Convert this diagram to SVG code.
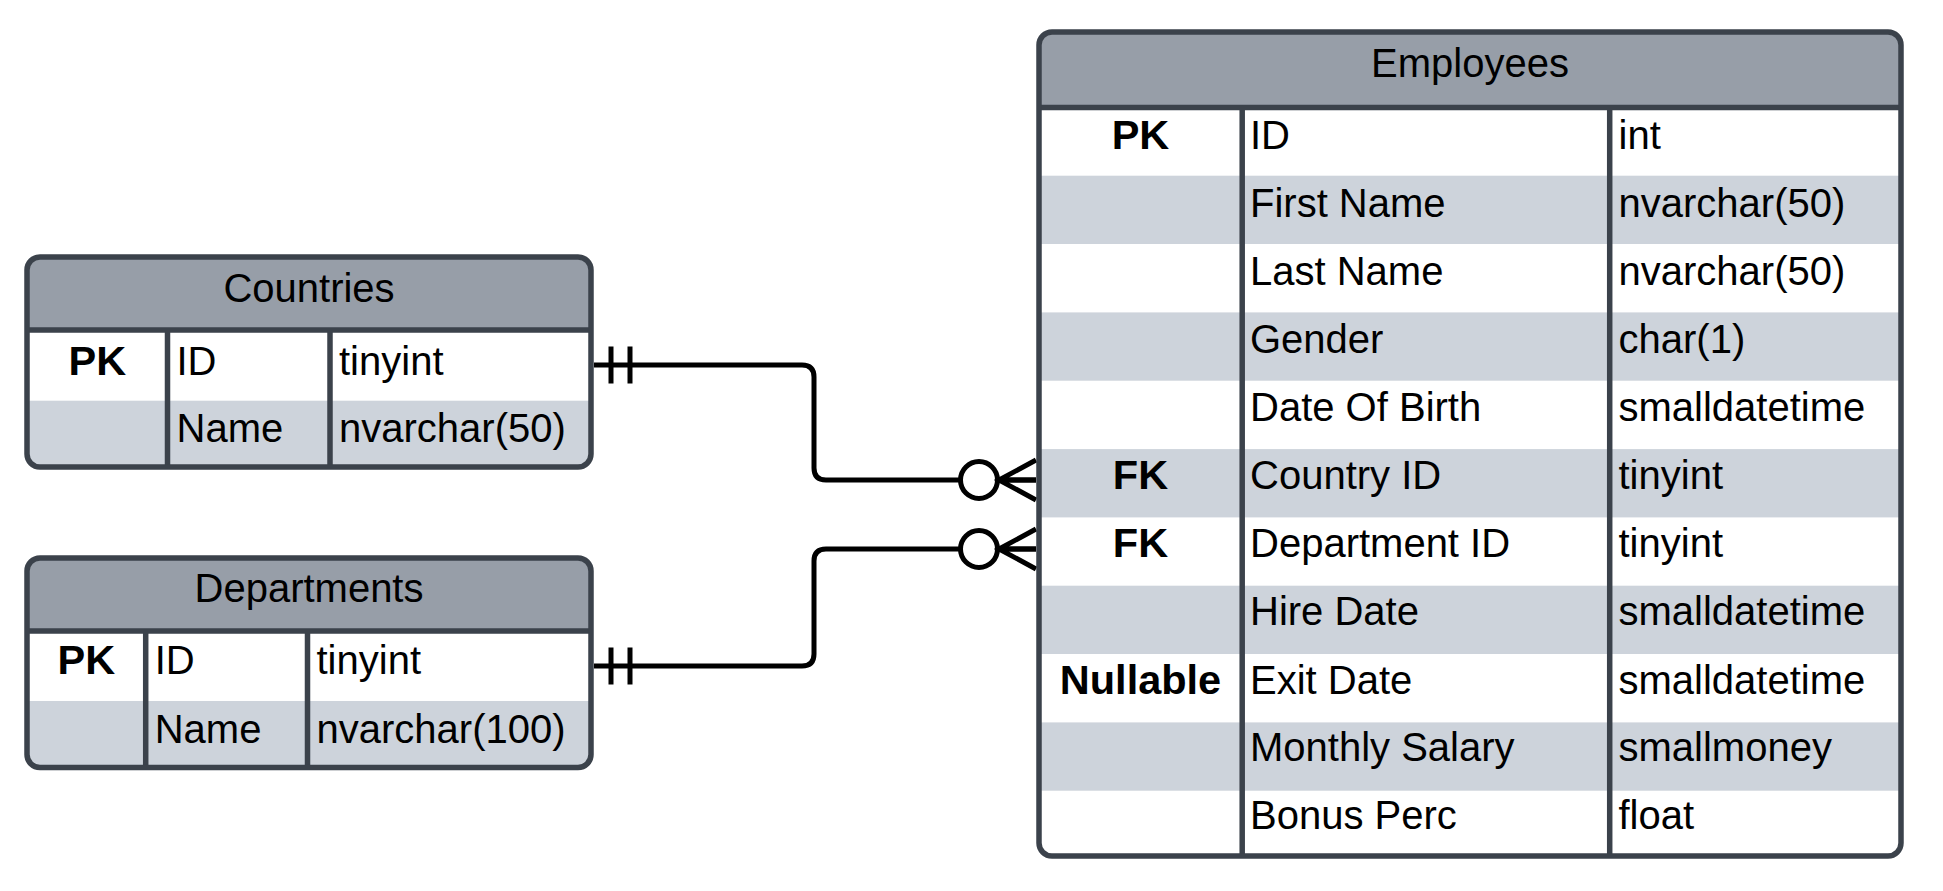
<svg xmlns="http://www.w3.org/2000/svg" width="1943" height="891" viewBox="0 0 1943 891">
<style>
  text { font-family: "Liberation Sans", Arial, sans-serif; font-size: 40px; fill: #000; }
  .title { text-anchor: middle; }
  .key { text-anchor: middle; font-weight: bold; font-size: 41.5px; }
  .hdr { fill: #979ea8; }
  .stripe { fill: #cdd3db; }
  .bg { fill: #ffffff; }
  .outline { fill: none; stroke: #3b424b; stroke-width: 5.5; }
  .grid { fill: none; stroke: #3b424b; stroke-width: 5.5; }
  .conn { fill: none; stroke: #000; stroke-width: 5; stroke-linejoin: round; }
  .mk { fill: none; stroke: #000; stroke-width: 5; }
  .mkc { fill: #fff; stroke: #000; stroke-width: 5; }
</style>
<defs>
  <clipPath id="clipC"><rect x="27" y="257" width="564" height="210" rx="13"/></clipPath>
  <clipPath id="clipD"><rect x="27" y="558" width="564" height="209.5" rx="13"/></clipPath>
  <clipPath id="clipE"><rect x="1039" y="32" width="862" height="824" rx="13"/></clipPath>
  <marker id="oneOne" markerUnits="userSpaceOnUse" orient="auto" refX="0" refY="0" markerWidth="80" markerHeight="80" overflow="visible">
    <path class="mk" d="M17,-18.5 V18.5 M36,-18.5 V18.5"/>
  </marker>
  <marker id="zeroMany" markerUnits="userSpaceOnUse" orient="auto" refX="0" refY="0" markerWidth="120" markerHeight="80" overflow="visible">
    <circle class="mkc" cx="-57" cy="0" r="18.5"/>
    <path class="mk" d="M0,-20 L-37,0 L0,20 M-37,0 H0"/>
  </marker>
</defs>
<rect x="0" y="0" width="1943" height="891" fill="#ffffff"/>

<g id="connectors">
  <path class="conn" marker-start="url(#oneOne)" marker-end="url(#zeroMany)" d="M594,365 H802 Q814,365 814,377 V468 Q814,480 826,480 H1036"/>
  <path class="conn" marker-start="url(#oneOne)" marker-end="url(#zeroMany)" d="M594,666 H802 Q814,666 814,654 V561 Q814,549 826,549 H1036"/>
</g>

<g id="countries">
  <g clip-path="url(#clipC)">
    <rect class="bg" x="27" y="257" width="564" height="210"/>
    <rect class="hdr" x="27" y="257" width="564" height="73"/>
    <rect class="stripe" x="27" y="400.7" width="564" height="67"/>
  </g>
  <path class="grid" d="M27,330 H591 M167.5,330 V467 M330,330 V467"/>
  <rect class="outline" x="27" y="257" width="564" height="210" rx="13"/>
  <text class="title" x="309" y="301.7">Countries</text>
  <text class="key" x="97.3" y="375">PK</text>
  <text x="176.5" y="375">ID</text>
  <text x="339" y="375">tinyint</text>
  <text x="176.5" y="441.7">Name</text>
  <text x="339" y="441.7">nvarchar(50)</text>
</g>

<g id="departments">
  <g clip-path="url(#clipD)">
    <rect class="bg" x="27" y="558" width="564" height="209.5"/>
    <rect class="hdr" x="27" y="558" width="564" height="73"/>
    <rect class="stripe" x="27" y="701" width="564" height="67"/>
  </g>
  <path class="grid" d="M27,631 H591 M145.7,631 V767.5 M307.5,631 V767.5"/>
  <rect class="outline" x="27" y="558" width="564" height="209.5" rx="13"/>
  <text class="title" x="309" y="601.7">Departments</text>
  <text class="key" x="86.3" y="674.3">PK</text>
  <text x="154.7" y="674.3">ID</text>
  <text x="316.5" y="674.3">tinyint</text>
  <text x="154.7" y="742.7">Name</text>
  <text x="316.5" y="742.7">nvarchar(100)</text>
</g>

<g id="employees">
  <g clip-path="url(#clipE)">
    <rect class="bg" x="1039" y="32" width="862" height="824"/>
    <rect class="hdr" x="1039" y="32" width="862" height="75.4"/>
    <rect class="stripe" x="1039" y="175.7" width="862" height="68.3"/>
    <rect class="stripe" x="1039" y="312.4" width="862" height="68.3"/>
    <rect class="stripe" x="1039" y="449.1" width="862" height="68.3"/>
    <rect class="stripe" x="1039" y="585.7" width="862" height="68.3"/>
    <rect class="stripe" x="1039" y="722.4" width="862" height="68.3"/>
  </g>
  <path class="grid" d="M1039,107.4 H1901 M1242.2,107.4 V856 M1609.7,107.4 V856"/>
  <rect class="outline" x="1039" y="32" width="862" height="824" rx="13"/>
  <text class="title" x="1470" y="76.7">Employees</text>
  <text class="key" x="1140.5" y="149.3">PK</text>
  <text x="1250" y="149.3">ID</text>
  <text x="1618.5" y="149.3">int</text>
  <text x="1250" y="217.3">First Name</text>
  <text x="1618.5" y="217.3">nvarchar(50)</text>
  <text x="1250" y="285.3">Last Name</text>
  <text x="1618.5" y="285.3">nvarchar(50)</text>
  <text x="1250" y="353.3">Gender</text>
  <text x="1618.5" y="353.3">char(1)</text>
  <text x="1250" y="421.3">Date Of Birth</text>
  <text x="1618.5" y="421.3">smalldatetime</text>
  <text class="key" x="1140.5" y="489.3">FK</text>
  <text x="1250" y="489.3">Country ID</text>
  <text x="1618.5" y="489.3">tinyint</text>
  <text class="key" x="1140.5" y="557.3">FK</text>
  <text x="1250" y="557.3">Department ID</text>
  <text x="1618.5" y="557.3">tinyint</text>
  <text x="1250" y="625.3">Hire Date</text>
  <text x="1618.5" y="625.3">smalldatetime</text>
  <text class="key" x="1140.5" y="693.8">Nullable</text>
  <text x="1250" y="693.8">Exit Date</text>
  <text x="1618.5" y="693.8">smalldatetime</text>
  <text x="1250" y="761.3">Monthly Salary</text>
  <text x="1618.5" y="761.3">smallmoney</text>
  <text x="1250" y="829.3">Bonus Perc</text>
  <text x="1618.5" y="829.3">float</text>
</g>
</svg>
